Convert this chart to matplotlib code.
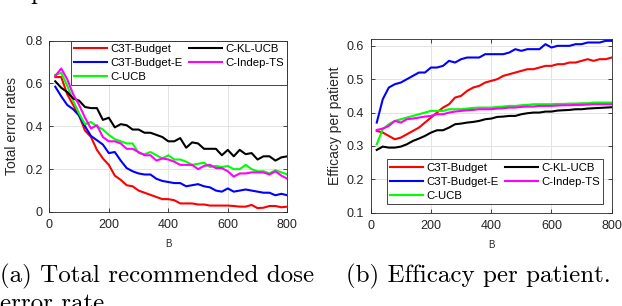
import numpy as np
import matplotlib
matplotlib.use("Agg")
import matplotlib.pyplot as plt

plt.rcParams['font.family'] = ['Liberation Sans', 'DejaVu Sans']

B = np.arange(20, 801, 20)

# (a) total error rates
err_c3t = [0.63, 0.63, 0.55, 0.50, 0.45, 0.38, 0.35, 0.29, 0.25, 0.22,
           0.17, 0.15, 0.125, 0.12, 0.10, 0.09, 0.08, 0.07, 0.06, 0.06,
           0.055, 0.04, 0.04, 0.04, 0.035, 0.035, 0.03, 0.03, 0.03, 0.03,
           0.028, 0.025, 0.025, 0.033, 0.018, 0.02, 0.028, 0.028, 0.022, 0.025]
err_c3t_e = [0.585, 0.54, 0.50, 0.48, 0.45, 0.40, 0.355, 0.335, 0.315, 0.275,
             0.28, 0.24, 0.205, 0.19, 0.18, 0.175, 0.175, 0.155, 0.145, 0.14,
             0.135, 0.135, 0.12, 0.125, 0.13, 0.12, 0.115, 0.10, 0.095, 0.11,
             0.095, 0.10, 0.105, 0.10, 0.095, 0.09, 0.09, 0.078, 0.085, 0.078]
err_ucb = [0.64, 0.65, 0.59, 0.52, 0.46, 0.41, 0.42, 0.40, 0.385, 0.36,
           0.34, 0.33, 0.32, 0.32, 0.275, 0.27, 0.28, 0.265, 0.25, 0.265,
           0.245, 0.245, 0.235, 0.22, 0.225, 0.23, 0.21, 0.215, 0.21, 0.215,
           0.20, 0.20, 0.22, 0.20, 0.19, 0.19, 0.18, 0.195, 0.185, 0.175]
err_klucb = [0.61, 0.58, 0.56, 0.53, 0.52, 0.49, 0.485, 0.485, 0.43, 0.44,
             0.395, 0.41, 0.405, 0.385, 0.385, 0.37, 0.37, 0.36, 0.35, 0.33,
             0.33, 0.345, 0.30, 0.325, 0.32, 0.295, 0.295, 0.295, 0.265, 0.29,
             0.26, 0.29, 0.27, 0.275, 0.245, 0.26, 0.26, 0.24, 0.255, 0.26]
err_ts = [0.635, 0.67, 0.62, 0.55, 0.50, 0.44, 0.39, 0.405, 0.35, 0.33,
          0.33, 0.32, 0.295, 0.295, 0.28, 0.265, 0.265, 0.24, 0.25, 0.245,
          0.235, 0.22, 0.22, 0.22, 0.20, 0.215, 0.22, 0.205, 0.205, 0.19,
          0.165, 0.18, 0.18, 0.185, 0.185, 0.185, 0.175, 0.19, 0.17, 0.155]

# (b) efficacy per patient
eff_c3t = [0.345, 0.34, 0.33, 0.32, 0.325, 0.335, 0.345, 0.355, 0.37, 0.385,
           0.40, 0.415, 0.425, 0.445, 0.45, 0.465, 0.475, 0.48, 0.49, 0.495,
           0.50, 0.51, 0.515, 0.52, 0.525, 0.53, 0.53, 0.535, 0.54, 0.54,
           0.545, 0.545, 0.55, 0.55, 0.555, 0.56, 0.555, 0.56, 0.56, 0.565]
eff_c3t_e = [0.37, 0.44, 0.475, 0.485, 0.49, 0.50, 0.51, 0.52, 0.52, 0.535,
             0.535, 0.54, 0.555, 0.55, 0.56, 0.565, 0.565, 0.565, 0.575, 0.575,
             0.575, 0.575, 0.58, 0.59, 0.585, 0.59, 0.59, 0.59, 0.605, 0.595,
             0.60, 0.60, 0.60, 0.605, 0.605, 0.61, 0.61, 0.61, 0.615, 0.615]
eff_ucb = [0.305, 0.35, 0.365, 0.375, 0.38, 0.385, 0.39, 0.395, 0.40, 0.405,
           0.405, 0.405, 0.41, 0.41, 0.41, 0.412, 0.414, 0.415, 0.415, 0.415,
           0.417, 0.418, 0.42, 0.42, 0.422, 0.423, 0.425, 0.425, 0.425, 0.425,
           0.426, 0.426, 0.427, 0.427, 0.428, 0.428, 0.43, 0.43, 0.43, 0.43]
eff_klucb = [0.288, 0.298, 0.295, 0.295, 0.298, 0.305, 0.315, 0.322, 0.33, 0.34,
             0.347, 0.347, 0.355, 0.365, 0.367, 0.37, 0.372, 0.375, 0.38, 0.382,
             0.387, 0.388, 0.39, 0.39, 0.395, 0.398, 0.40, 0.40, 0.403, 0.403,
             0.406, 0.407, 0.408, 0.41, 0.41, 0.412, 0.413, 0.414, 0.415, 0.416]
eff_ts = [0.348, 0.352, 0.36, 0.375, 0.37, 0.38, 0.382, 0.385, 0.388, 0.39,
          0.395, 0.395, 0.40, 0.403, 0.405, 0.407, 0.408, 0.41, 0.41, 0.41,
          0.412, 0.413, 0.415, 0.415, 0.417, 0.418, 0.418, 0.42, 0.42, 0.42,
          0.421, 0.422, 0.422, 0.423, 0.423, 0.424, 0.425, 0.425, 0.425, 0.425]

names = ['C3T-Budget', 'C3T-Budget-E', 'C-UCB', 'C-KL-UCB', 'C-Indep-TS']
colors = ['#ff0000', '#0000ff', '#00ff00', '#000000', '#ff00ff']

fig = plt.figure(figsize=(6.22, 3.06), dpi=100)
ax1 = fig.add_axes([0.0793, 0.3072, 0.3826, 0.560])
ax2 = fig.add_axes([0.596, 0.305, 0.3875, 0.567])

def style(ax):
    ax.grid(True, color='#e3e3e3', linewidth=0.7)
    ax.set_axisbelow(True)
    for s in ax.spines.values():
        s.set_color('#262626')
        s.set_linewidth(0.6)
    ax.tick_params(direction='in', length=3, width=0.6, colors='#262626',
                   labelsize=9, top=True, right=True, pad=5)
    ax.set_xlim(0, 800)
    ax.set_xticks([0, 200, 400, 600, 800])
    ax.set_xlabel('B', fontsize=7, color='#262626', labelpad=6)

series_a = [err_c3t, err_c3t_e, err_ucb, err_klucb, err_ts]
series_b = [eff_c3t, eff_c3t_e, eff_ucb, eff_klucb, eff_ts]

for ax, series in ((ax1, series_a), (ax2, series_b)):
    for ys, name, c in zip(series, names, colors):
        ax.plot(B, ys, color=c, linewidth=1.5, label=name)
    style(ax)

ax1.set_ylim(0, 0.8)
ax1.set_yticks([0, 0.2, 0.4, 0.6, 0.8])
ax1.set_yticklabels(['0', '0.2', '0.4', '0.6', '0.8'])
ax1.set_ylabel('Total error rates', fontsize=10, color='#262626', labelpad=4)

ax2.set_ylim(0.1, 0.62)
ax2.set_yticks([0.1, 0.2, 0.3, 0.4, 0.5, 0.6])
ax2.set_ylabel('Efficacy per patient', fontsize=10, color='#262626', labelpad=3.5)

leg_kw = dict(ncol=2, fontsize=8.2, frameon=True, fancybox=False, framealpha=1,
              edgecolor='#262626', handlelength=2.9, handletextpad=0.25,
              columnspacing=0.6, labelspacing=0.35, borderpad=0.3)
l1 = ax1.legend(loc='upper right', borderaxespad=0, **leg_kw)
l2 = ax2.legend(loc='lower right', borderaxespad=0.75, **leg_kw)
for l in (l1, l2):
    l.get_frame().set_linewidth(0.6)

cap = dict(fontsize=18, family=['cmr10', 'DejaVu Serif'], color='black',
           va='baseline')
fig.text(30 / 622, 1 + 1 / 306, 'p', **cap)
fig.text(0.0, 1 - 282 / 306, '(a) Total recommended dose', **cap)
fig.text(0.0, 1 - 310 / 306, 'error rate.', **cap)
fig.text(346 / 622, 1 - 282 / 306, '(b) Efficacy per patient.', **cap)

fig.savefig('out.png', dpi=100)
